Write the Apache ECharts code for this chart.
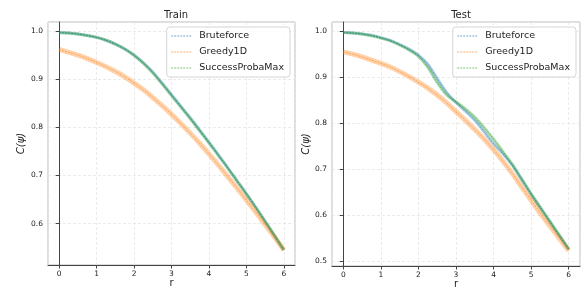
<!DOCTYPE html>
<html>
<head>
<meta charset="utf-8">
<script src="https://cdn.jsdelivr.net/npm/echarts@6/dist/echarts.min.js"></script>
<style>
  html, body { margin: 0; padding: 0; background: #fff; }
  #chart { width: 581px; height: 288px; }
</style>
</head>
<body>
<div id="chart"></div>
<script>
  // r values shared by every curve
  const rValues = [0, 0.25, 0.5, 0.75, 1, 1.25, 1.5, 1.75, 2, 2.25, 2.5, 2.75, 3,
    3.25, 3.5, 3.75, 4, 4.25, 4.5, 4.75, 5, 5.25, 5.5, 5.75, 6]

  const trainBruteforce = [0.997, 0.996, 0.994, 0.991, 0.987, 0.981, 0.973, 0.963, 0.950, 0.934, 0.915, 0.892, 0.868,
    0.844, 0.820, 0.795, 0.769, 0.743, 0.716, 0.689, 0.662, 0.634, 0.605, 0.575, 0.545]
  const trainGreedy = [0.962, 0.956, 0.950, 0.943, 0.935, 0.926, 0.916, 0.905, 0.892, 0.878, 0.862, 0.845, 0.827,
    0.808, 0.788, 0.767, 0.745, 0.722, 0.698, 0.674, 0.649, 0.624, 0.598, 0.572, 0.545]
  const trainSuccess = [0.997, 0.996, 0.994, 0.991, 0.987, 0.981, 0.973, 0.963, 0.950, 0.933, 0.913, 0.890, 0.866,
    0.842, 0.818, 0.793, 0.768, 0.742, 0.716, 0.689, 0.662, 0.634, 0.605, 0.575, 0.546]

  const testBruteforce = [0.997, 0.996, 0.994, 0.991, 0.986, 0.980, 0.971, 0.961, 0.948, 0.928, 0.897, 0.867, 0.845,
    0.826, 0.806, 0.781, 0.755, 0.733, 0.708, 0.677, 0.645, 0.615, 0.585, 0.555, 0.525]
  const testGreedy = [0.955, 0.950, 0.944, 0.937, 0.930, 0.922, 0.912, 0.901, 0.889, 0.876, 0.861, 0.844, 0.825,
    0.806, 0.786, 0.765, 0.742, 0.717, 0.690, 0.661, 0.632, 0.603, 0.576, 0.549, 0.522]
  const testSuccess = [0.997, 0.996, 0.994, 0.990, 0.985, 0.979, 0.970, 0.959, 0.945, 0.921, 0.888, 0.861, 0.846,
    0.831, 0.813, 0.790, 0.765, 0.738, 0.710, 0.678, 0.646, 0.616, 0.586, 0.556, 0.526]

  const methods = ['Bruteforce', 'Greedy1D', 'SuccessProbaMax']
  const colors = ['#1f77b4', '#ff7f0e', '#2ca02c']
  const bandWidth = [3, 5, 3]

  const chart = echarts.init(document.getElementById('chart'))

  const pairs = (ys) => rValues.map((r, i) => [r, ys[i]])

  function makeSeries(panel, sets) {
    const out = []
    sets.forEach((ys, i) => {
      // translucent band under the mean
      out.push({
        name: methods[i] + '-band-' + panel,
        type: 'line',
        xAxisIndex: panel,
        yAxisIndex: panel,
        data: pairs(ys),
        smooth: 0.3,
        symbol: 'none',
        silent: true,
        lineStyle: { color: colors[i], width: bandWidth[i], opacity: 0.35 },
        z: 2
      })
      out.push({
        name: methods[i],
        type: 'line',
        xAxisIndex: panel,
        yAxisIndex: panel,
        data: pairs(ys),
        smooth: 0.3,
        symbol: 'none',
        itemStyle: { color: colors[i] },
        lineStyle: { color: colors[i], width: 0.8, type: [2, 1], opacity: 0.7 },
        z: 3
      })
    })
    return out
  }

  const tickText = { color: '#222', fontSize: 7.5, fontFamily: 'DejaVu Sans' }
  const gridLine = { show: true, lineStyle: { color: '#e6e6e6', type: [3, 2], width: 0.8 } }

  function xAxis(gridIndex) {
    return {
      type: 'value', gridIndex, min: -0.3, max: 6.3,
      minInterval: 1, maxInterval: 1,
      name: 'r', nameLocation: 'middle', nameGap: 13, nameMoveOverlap: false,
      nameTextStyle: { color: '#222', fontSize: 10, fontFamily: 'DejaVu Sans' },
      axisLine: { show: true, lineStyle: { color: '#444', width: 1 } },
      axisTick: { show: true, length: 3.5, lineStyle: { color: '#444' } },
      axisLabel: { ...tickText, margin: 5, showMinLabel: false, showMaxLabel: false },
      splitLine: gridLine
    }
  }

  function yAxis(gridIndex, min, max, gap) {
    return {
      type: 'value', gridIndex, min, max,
      minInterval: 0.1, maxInterval: 0.1,
      name: 'C(ψ)', nameLocation: 'middle', nameGap: gap, nameRotate: 90,
      nameTextStyle: { color: '#222', fontSize: 10, fontStyle: 'italic', fontFamily: 'DejaVu Sans' },
      axisLine: { show: true, lineStyle: { color: '#444', width: 1 } },
      axisTick: { show: true, length: 3.5, lineStyle: { color: '#444' } },
      axisLabel: { ...tickText, margin: 5, showMinLabel: false, showMaxLabel: false,
        formatter: (v) => v.toFixed(1) },
      splitLine: gridLine
    }
  }

  function legend(right) {
    return {
      data: methods,
      orient: 'vertical',
      top: 27,
      right,
      itemWidth: 20,
      itemHeight: 8,
      itemGap: 6,
      padding: [4, 6, 4, 4],
      borderColor: '#d5d5d5',
      borderWidth: 1,
      borderRadius: 3,
      backgroundColor: 'rgba(255,255,255,0.85)',
      itemStyle: { opacity: 0 },
      lineStyle: { opacity: 0.6, width: 1, type: [2, 1] },
      textStyle: { color: '#222', fontSize: 9.5, fontFamily: 'DejaVu Sans', padding: [0, 0, 0, 3] }
    }
  }

  chart.setOption({
    animation: false,
    title: [
      { text: 'Train', left: 171, top: 5, textAlign: 'center',
        textStyle: { fontSize: 10, fontWeight: 'normal', color: '#222', fontFamily: 'DejaVu Sans' } },
      { text: 'Test', left: 456, top: 5, textAlign: 'center',
        textStyle: { fontSize: 10, fontWeight: 'normal', color: '#222', fontFamily: 'DejaVu Sans' } }
    ],
    legend: [legend(291), legend(5)],
    grid: [
      { left: 48, top: 22, width: 247, bottom: 23, show: true, borderColor: '#bbb', borderWidth: 1,
        outerBoundsMode: 'none', containLabel: false },
      { left: 332, top: 22, width: 248, bottom: 22, show: true, borderColor: '#bbb', borderWidth: 1,
        outerBoundsMode: 'none', containLabel: false }
    ],
    xAxis: [xAxis(0), xAxis(1)],
    yAxis: [yAxis(0, 0.514, 1.019, 22), yAxis(1, 0.489, 1.02, 18)],
    series: [
      ...makeSeries(0, [trainBruteforce, trainGreedy, trainSuccess]),
      ...makeSeries(1, [testBruteforce, testGreedy, testSuccess])
    ]
  })
</script>
</body>
</html>
